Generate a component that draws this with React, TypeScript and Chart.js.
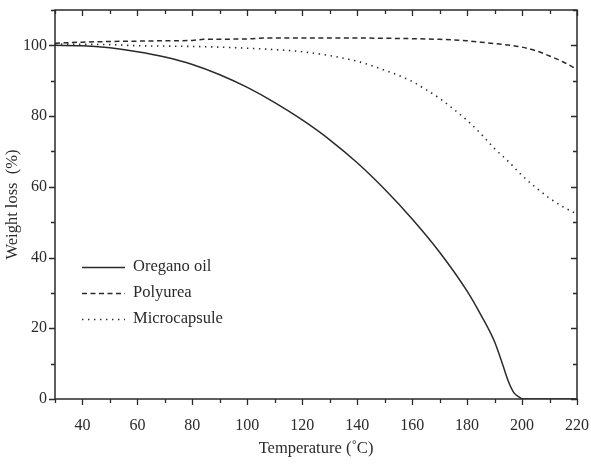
import React, { useEffect, useRef } from 'react';
import { Chart, registerables } from 'chart.js';

Chart.register(...registerables);

// ---- data ----
const oreganoTemps = [30, 40, 50, 60, 70, 80, 90, 100, 110, 120, 130, 140, 150, 160, 170, 180, 185, 190, 193, 195, 197, 199, 200.5, 210, 220];
const oreganoValues = [100, 99.9, 99.3, 98.2, 96.7, 94.6, 91.7, 88.1, 83.8, 78.9, 73.3, 66.8, 59.3, 50.9, 41.5, 30.5, 23.8, 16.2, 9.6, 5, 1.8, 0.5, 0, 0, 0];

const polyureaTemps = [30, 40, 50, 60, 70, 80, 84, 100, 106, 110, 120, 140, 150, 160, 170, 180, 185, 190, 195, 200, 205, 210, 215, 220];
const polyureaValues = [100.6, 100.9, 101.1, 101.2, 101.3, 101.4, 101.7, 101.8, 102.1, 102.1, 102.1, 102.1, 102.0, 101.9, 101.7, 101.3, 100.9, 100.5, 100.1, 99.5, 98.5, 97.0, 95.3, 93.2];

const microTemps = [30, 40, 50, 60, 70, 80, 90, 100, 110, 120, 130, 140, 150, 155, 160, 165, 170, 175, 180, 185, 190, 195, 200, 205, 210, 215, 220];
const microValues = [100.4, 100.3, 100.2, 99.9, 99.8, 99.7, 99.5, 99.2, 98.8, 98.2, 97.1, 95.5, 93.0, 91.5, 89.8, 87.5, 85.0, 82.0, 78.8, 75.0, 70.8, 67.2, 63.2, 59.8, 56.8, 54.3, 52.3];

const seriesLabels = ['Oregano oil', 'Polyurea', 'Microcapsule'];
const xTitle = 'Temperature (\u02DAC)';
const yTitle = 'Weight loss  (%)';
const xMin = 30, xMax = 220, yMin = 0, yMax = 110;

const INK = '#2a2a2a';
const FONT = "'Liberation Serif', 'Times New Roman', serif";
const dashes = [[], [5, 3.5], [1.4, 4.6]];

function pts(t: number[], v: number[]) {
  return t.map((x, i) => ({ x, y: v[i] }));
}

const framePlugin = {
  id: 'frameTicks',
  afterDraw(chart: any) {
    const { ctx, chartArea: a } = chart;
    const xs = chart.scales.x;
    const ys = chart.scales.y;
    ctx.save();
    ctx.strokeStyle = INK;
    ctx.lineWidth = 1.5;
    ctx.strokeRect(a.left, a.top, a.right - a.left, a.bottom - a.top);
    ctx.lineWidth = 1.3;
    ctx.beginPath();
    for (let v = xMin; v <= xMax; v += 10) {
      const px = Math.round(xs.getPixelForValue(v)) + 0.5;
      const major = v % 20 === 0;
      const lb = major ? 6 : 4;
      ctx.moveTo(px, a.bottom);
      ctx.lineTo(px, a.bottom + lb);
      ctx.moveTo(px, a.top);
      ctx.lineTo(px, a.top + (major ? 6 : 4));
    }
    for (let v = yMin; v <= yMax; v += 10) {
      const py = Math.round(ys.getPixelForValue(v)) + 0.5;
      const major = v % 20 === 0;
      ctx.moveTo(a.left, py);
      ctx.lineTo(a.left - (major ? 6 : 4), py);
      ctx.moveTo(a.right, py);
      ctx.lineTo(a.right - (major ? 6 : 4), py);
    }
    ctx.stroke();

    // legend
    const lx0 = 82, lx1 = 125, tx = 133;
    const rows = [267, 293, 319];
    ctx.font = `16.5px ${FONT}`;
    ctx.textBaseline = 'middle';
    ctx.textAlign = 'left';
    ctx.fillStyle = INK;
    chart.data.datasets.forEach((ds: any, i: number) => {
      ctx.beginPath();
      ctx.setLineDash(ds.borderDash || []);
      ctx.lineWidth = ds.borderWidth;
      ctx.moveTo(lx0, rows[i] + 0.5);
      ctx.lineTo(lx1, rows[i] + 0.5);
      ctx.stroke();
      ctx.setLineDash([]);
      ctx.fillText(ds.label, tx, rows[i]);
    });
    ctx.restore();
  },
};

export default function App() {
  const ref = useRef<HTMLCanvasElement>(null);
  useEffect(() => {
    const chart = new Chart(ref.current as HTMLCanvasElement, {
      type: 'line',
      data: {
        datasets: [
          { label: seriesLabels[0], data: pts(oreganoTemps, oreganoValues), borderColor: INK, borderWidth: 1.5, borderDash: dashes[0], pointRadius: 0, cubicInterpolationMode: 'monotone', fill: false },
          { label: seriesLabels[1], data: pts(polyureaTemps, polyureaValues), borderColor: INK, borderWidth: 1.5, borderDash: dashes[1], pointRadius: 0, cubicInterpolationMode: 'monotone', fill: false },
          { label: seriesLabels[2], data: pts(microTemps, microValues), borderColor: INK, borderWidth: 1.6, borderDash: dashes[2], pointRadius: 0, cubicInterpolationMode: 'monotone', fill: false },
        ],
      },
      options: {
        animation: false,
        responsive: false,
        maintainAspectRatio: false,
        layout: { padding: { left: 0, top: 10, right: 14, bottom: 0 } },
        plugins: { legend: { display: false }, tooltip: { enabled: false } },
        scales: {
          x: {
            type: 'linear',
            min: xMin,
            max: xMax,
            grid: { display: false, drawTicks: false },
            border: { display: false },
            ticks: {
              stepSize: 10,
              autoSkip: false,
              maxRotation: 0,
              padding: 17,
              color: INK,
              font: { family: FONT, size: 16 },
              callback: (v: any) => (Number(v) % 20 === 0 ? String(v) : ''),
            },
            title: { display: true, text: xTitle, color: INK, font: { family: FONT, size: 16.5 }, padding: { top: 0, bottom: 5 } },
            afterFit: (s: any) => { s.height = 65; s.paddingLeft = 0; s.paddingRight = 0; },
          },
          y: {
            type: 'linear',
            min: yMin,
            max: yMax,
            grid: { display: false, drawTicks: false },
            border: { display: false },
            ticks: {
              stepSize: 10,
              autoSkip: false,
              padding: 8,
              color: INK,
              font: { family: FONT, size: 16 },
              callback: (v: any) => (Number(v) % 20 === 0 ? String(v) : ''),
            },
            title: { display: true, text: yTitle, color: INK, font: { family: FONT, size: 16.5 }, padding: { top: 3, bottom: 0 } },
            afterFit: (s: any) => { s.width = 55; s.paddingTop = 0; s.paddingBottom = 0; },
          },
        },
      },
      plugins: [framePlugin],
    } as any);
    return () => chart.destroy();
  }, []);
  return (
    <div style={{ position: 'absolute', left: 0, top: 0, width: 591, height: 464, background: '#fff' }}>
      <canvas ref={ref} width={591} height={464} style={{ width: 591, height: 464 }} />
    </div>
  );
}
